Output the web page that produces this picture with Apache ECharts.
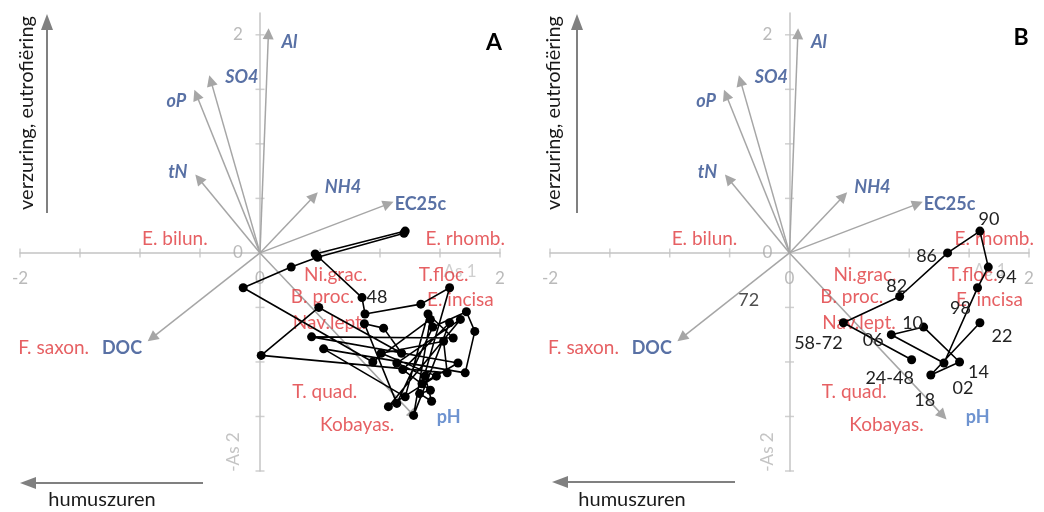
<!DOCTYPE html>
<html><head><meta charset="utf-8">
<script src="https://cdn.jsdelivr.net/npm/echarts@6/dist/echarts.min.js"></script>
<style>html,body{margin:0;padding:0;background:#fff}#c{width:1044px;height:512px}</style>
</head><body><div id="c"></div>
<script>
// ---------- DATA ----------
const axisTickValues = [-2, -1.5, -1, -0.5, 0.5, 1, 1.5, 2];
const xLabelValues = [-2, 0, 2];
const yLabelValues = [0, 2];

// environmental variable arrows (tip coordinates)
const envNames = ['Al', 'SO4', 'oP', 'tN', 'NH4', 'EC25c', 'DOC', 'pH'];
const envX = [0.07, -0.41, -0.53, -0.51, 0.45, 1.07, -0.90, 1.28];
const envY = [2.01, 1.58, 1.45, 0.68, 0.52, 0.45, -0.78, -1.49];

// species scores
const speciesNames = ['E. bilun.', 'E. rhomb.', 'F. saxon.', 'Ni.grac.', 'B. proc.', 'Nav.lept.', 'T.floc.', 'E. incisa', 'T. quad.', 'Kobayas.'];
const speciesX = [-0.71, 1.71, -1.72, 0.63, 0.52, 0.58, 1.53, 1.67, 0.54, 0.81];
const speciesY = [0.13, 0.13, -0.87, -0.20, -0.40, -0.64, -0.20, -0.43, -1.27, -1.58];

// panel A trajectory
const trajAX = [1.21, 0.46, 0.85, 0.875, 1.34, 1.58, 1.35, 1.65, 0.43, 1.61, 1.40, 1.21, 0.53, 1.71, 1.79, 1.72, 1.44, 1.14, 0.87, 1.03, 1.18, 0.49, 0.01, 1.56, 1.53, 1.01, 1.47, 1.07, 1.67, 1.14, 1.375, 1.43, 1.33, 1.42, 1.19, 1.58, 1.28, 1.42, 0.94, -0.14, 0.26, 0.48, 1.20];
const trajAY = [0.20, -0.01, -0.41, -0.56, -0.47, -0.32, -1.20, -1.01, -0.77, -0.78, -0.56, -1.32, -0.88, -1.10, -0.72, -0.54, -0.68, -1.38, -0.65, -0.69, -0.92, -0.50, -0.94, -1.10, -0.81, -0.92, -1.13, -1.41, -0.61, -1.01, -1.13, -1.36, -1.29, -1.26, -1.07, -0.64, -1.49, -0.61, -1.00, -0.32, -0.13, -0.04, 0.18];
const trajALabels = ['', '', '48'];

// panel B trajectory (periods)
const trajBLabels = ['24-48', '58-72', '82', '86', '90', '94', '98', '02', '06', '10', '14', '18', '22'];
const trajBX = [1.02, 0.45, 0.92, 1.32, 1.59, 1.66, 1.57, 1.29, 0.85, 1.12, 1.42, 1.18, 1.59];
const trajBY = [-0.98, -0.64, -0.40, 0.00, 0.20, -0.13, -0.32, -1.01, -0.75, -0.68, -1.00, -1.12, -0.64];
const extraBNames = ['72'];
const extraBX = [-0.34];
const extraBY = [-0.43];

// ---------- STYLE ----------
const FONT = 'Lato, "Open Sans", sans-serif';
const RED = '#e0383c', BLUE = '#2f4e8e', BLUE2 = '#4a78c4', AXC = '#c4c4c4', TXC = '#a9a9a9', ARC = '#a6a6a6';
const envOffset = { 'Al': [21, 8], 'SO4': [31, -3], 'oP': [-20, 6], 'tN': [-21, -7], 'NH4': [29, -9], 'EC25c': [32, 0], 'DOC': [-30, 10], 'pH': [35, 2] };
const envStyle = { 'Al': 'italic', 'SO4': 'italic', 'oP': 'italic', 'tN': 'italic', 'NH4': 'italic', 'EC25c': 'normal', 'DOC': 'normal', 'pH': 'normal' };
const bLabelOffset = { '24-48': [-22, 18], '58-72': [-25, 20], '82': [-3, -10], '86': [-21, 3], '90': [9, -12], '94': [18, 10], '98': [-17, 20], '02': [19, 25], '06': [-18, 5], '10': [-11, -4], '14': [19, 10], '18': [-6, 25], '22': [22, 13] };

function xAxis(gi) {
  return {
    type: 'value', gridIndex: gi, min: -2, max: 2, interval: 0.5,
    axisLine: { show: true, onZero: true, lineStyle: { color: AXC, width: 1.5 } },
    axisTick: { show: false }, axisLabel: { show: false }, splitLine: { show: false }
  };
}
function yAxis(gi) {
  return {
    type: 'value', gridIndex: gi, min: -2, max: 2.2, interval: 0.5,
    axisLine: { show: true, onZero: true, lineStyle: { color: AXC, width: 1.5 } },
    axisTick: { show: false }, axisLabel: { show: false }, splitLine: { show: false }
  };
}

const invisible = { color: 'rgba(0,0,0,0)' };
function panelSeries(ax) {
  const s = [];
  // tick marks crossing the axes
  s.push({
    type: 'scatter', xAxisIndex: ax, yAxisIndex: ax, z: 1, silent: true,
    symbol: 'rect', symbolSize: [1.5, 9], itemStyle: { color: AXC },
    data: axisTickValues.map(v => [v, 0])
  });
  s.push({
    type: 'scatter', xAxisIndex: ax, yAxisIndex: ax, z: 1, silent: true,
    symbol: 'rect', symbolSize: [9, 1.5], itemStyle: { color: AXC },
    data: axisTickValues.map(v => [0, v])
  });
  // tick labels
  s.push({
    type: 'scatter', xAxisIndex: ax, yAxisIndex: ax, z: 1, silent: true, symbolSize: 1, itemStyle: invisible,
    data: xLabelValues.map(v => ({ value: [v, 0], name: String(v) })),
    label: { show: true, position: 'inside', offset: [0, 26], formatter: p => p.name, color: TXC, fontSize: 17, fontFamily: FONT }
  });
  s.push({
    type: 'scatter', xAxisIndex: ax, yAxisIndex: ax, z: 1, silent: true, symbolSize: 1, itemStyle: invisible,
    data: yLabelValues.map(v => ({ value: [0, v], name: String(v) })),
    label: { show: true, position: 'inside', offset: [-22, 0], formatter: p => p.name, color: TXC, fontSize: 17, fontFamily: FONT }
  });
  // arrows
  s.push({
    type: 'lines', coordinateSystem: 'cartesian2d', xAxisIndex: ax, yAxisIndex: ax, z: 2, silent: true,
    symbol: ['none', 'triangle'], symbolSize: 11,
    lineStyle: { color: ARC, width: 1.5, opacity: 1, curveness: 0 },
    data: envNames.map((n, i) => ({ coords: [[0, 0], [envX[i], envY[i]]] }))
  });
  s.push({
    type: 'scatter', xAxisIndex: ax, yAxisIndex: ax, z: 3, silent: true, symbolSize: 1, itemStyle: invisible,
    data: envNames.map((n, i) => ({
      name: n, value: [envX[i], envY[i]],
      label: { offset: envOffset[n], fontStyle: envStyle[n], color: n === 'pH' ? BLUE2 : BLUE }
    })),
    label: { show: true, position: 'inside', formatter: p => p.name, fontSize: 18, fontWeight: 'bold', fontFamily: FONT }
  });
  s.push({
    type: 'scatter', xAxisIndex: ax, yAxisIndex: ax, z: 3, silent: true, symbolSize: 1, itemStyle: invisible,
    data: speciesNames.map((n, i) => ({ name: n, value: [speciesX[i], speciesY[i]] })),
    label: { show: true, position: 'inside', formatter: p => p.name, fontSize: 19, color: RED, fontFamily: FONT }
  });
  return s;
}

const series = [].concat(panelSeries(0), panelSeries(1));
series.push({
  type: 'line', xAxisIndex: 0, yAxisIndex: 0, z: 5, silent: true,
  symbol: 'circle', symbolSize: 9, showSymbol: true,
  itemStyle: { color: '#000' }, lineStyle: { color: '#000', width: 1.6 },
  data: trajAX.map((x, i) => ({ value: [x, trajAY[i]], name: trajALabels[i] || '' })),
  label: { show: true, position: 'inside', offset: [15, 0], color: '#222', fontSize: 18, fontFamily: FONT, formatter: p => p.name }
});
series.push({
  type: 'line', xAxisIndex: 1, yAxisIndex: 1, z: 5, silent: true,
  symbol: 'circle', symbolSize: 9, showSymbol: true,
  itemStyle: { color: '#000' }, lineStyle: { color: '#000', width: 1.6 },
  data: trajBX.map((x, i) => ({ value: [x, trajBY[i]], name: trajBLabels[i], label: { offset: bLabelOffset[trajBLabels[i]] } })),
  label: { show: true, position: 'inside', color: '#222', fontSize: 18, fontFamily: FONT, formatter: p => p.name }
});
series.push({
  type: 'scatter', xAxisIndex: 1, yAxisIndex: 1, z: 5, silent: true, symbolSize: 1, itemStyle: invisible,
  data: extraBNames.map((n, i) => ({ name: n, value: [extraBX[i], extraBY[i]] })),
  label: { show: true, position: 'inside', color: '#222', fontSize: 18, fontFamily: FONT, formatter: p => p.name }
});

function dirArrows(vx, tx, hy, hx1, hx2, txH) {
  const c = '#808080';
  return [
    { type: 'line', shape: { x1: vx, y1: 213, x2: vx, y2: 28 }, style: { stroke: c, lineWidth: 2 } },
    { type: 'polygon', shape: { points: [[vx, 14], [vx - 6, 30], [vx + 6, 30]] }, style: { fill: c } },
    { type: 'text', x: tx, y: 113, rotation: Math.PI / 2, style: { text: 'verzuring, eutrofiëring', font: '20px ' + FONT, fill: '#1a1a1a', align: 'center', verticalAlign: 'middle' } },
    { type: 'line', shape: { x1: hx2, y1: hy, x2: hx1 + 14, y2: hy }, style: { stroke: c, lineWidth: 2 } },
    { type: 'polygon', shape: { points: [[hx1, hy], [hx1 + 16, hy - 6], [hx1 + 16, hy + 6]] }, style: { fill: c } },
    { type: 'text', x: txH, y: 500, style: { text: 'humuszuren', font: '20px ' + FONT, fill: '#1a1a1a', align: 'center', verticalAlign: 'middle' } }
  ];
}
const graphics = [].concat(
  dirArrows(47, 27, 483, 20, 203, 102),
  dirArrows(577, 554, 482, 552, 735, 632),
  [
    { type: 'text', x: 494, y: 43, style: { text: 'A', font: 'bold 23px ' + FONT, fill: '#000', align: 'center', verticalAlign: 'middle' } },
    { type: 'text', x: 1021, y: 38, style: { text: 'B', font: 'bold 23px ' + FONT, fill: '#000', align: 'center', verticalAlign: 'middle' } },
    { type: 'text', x: 460, y: 272, style: { text: 'As 1', font: '17px ' + FONT, fill: '#cfcfcf', align: 'center', verticalAlign: 'middle' } },
    { type: 'text', x: 990, y: 271, style: { text: 'As 1', font: '17px ' + FONT, fill: '#cfcfcf', align: 'center', verticalAlign: 'middle' } },
    { type: 'text', x: 234, y: 452, rotation: Math.PI / 2, style: { text: '-As 2', font: '17px ' + FONT, fill: '#c4c4c4', align: 'center', verticalAlign: 'middle' } },
    { type: 'text', x: 768, y: 452, rotation: Math.PI / 2, style: { text: '-As 2', font: '17px ' + FONT, fill: '#c4c4c4', align: 'center', verticalAlign: 'middle' } }
  ]
);

const chart = echarts.init(document.getElementById('c'));
chart.setOption({
  animation: false,
  backgroundColor: '#fff',
  grid: [
    { left: 20, top: 13, width: 480, height: 458 },
    { left: 550, top: 13, width: 479, height: 458 }
  ],
  xAxis: [xAxis(0), xAxis(1)],
  yAxis: [yAxis(0), yAxis(1)],
  series: series,
  graphic: graphics
});
</script>
</body></html>
